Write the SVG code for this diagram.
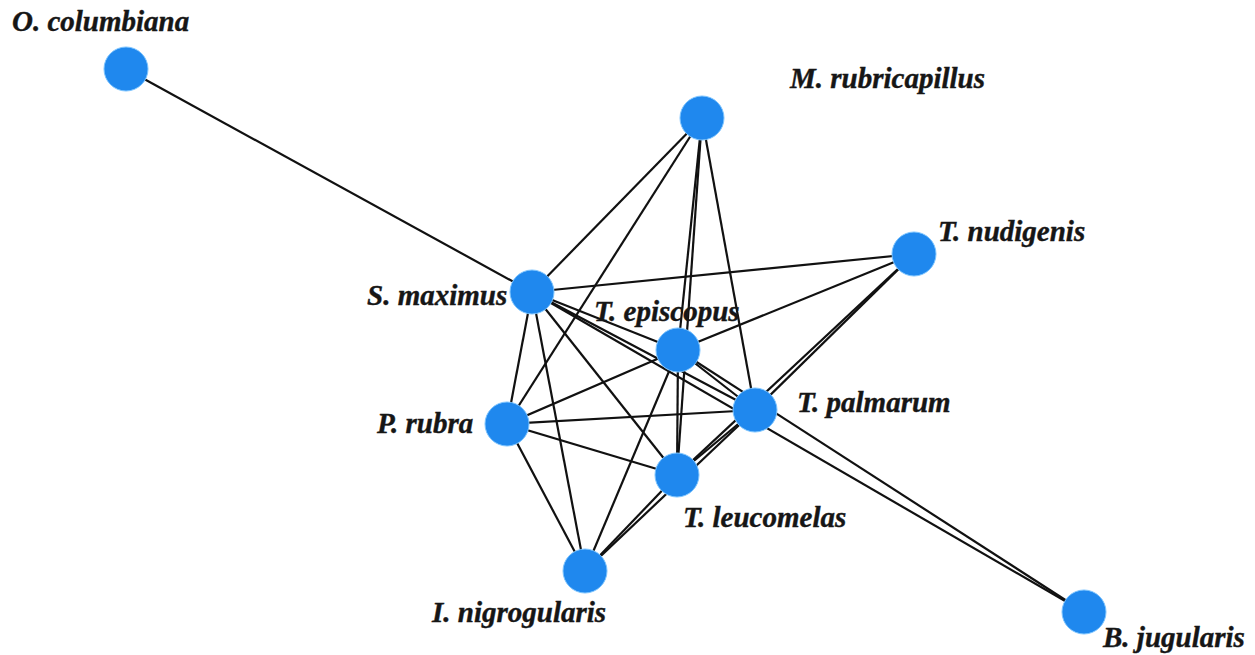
<svg xmlns="http://www.w3.org/2000/svg" width="1255" height="655" viewBox="0 0 1255 655">
  <style>
    .edge { stroke: #111; stroke-width: 2.2; fill: none; }
    .node circle { fill: #1f88ee; stroke: #7cc4ff; stroke-width: 1; }
    .node text { font-family: "Liberation Serif", "Times New Roman", serif; font-weight: bold; font-style: italic; font-size: 29px; fill: #161616; stroke: #161616; stroke-width: 0.4; }
  </style>
  <rect width="1255" height="655" fill="#ffffff"/>
  <g id="edges">
    <!-- O. columbiana -->
    <line class="edge" x1="126" y1="69" x2="532" y2="292"/>
    <!-- M. rubricapillus -->
    <line class="edge" x1="702" y1="118" x2="532" y2="292"/>
    <line class="edge" x1="702" y1="118" x2="507" y2="424"/>
    <line class="edge" x1="702" y1="118" x2="678" y2="350"/>
    <line class="edge" x1="702" y1="118" x2="677" y2="475"/>
    <line class="edge" x1="702" y1="118" x2="755" y2="410"/>
    <!-- T. nudigenis -->
    <line class="edge" x1="914" y1="254" x2="532" y2="292"/>
    <line class="edge" x1="914" y1="254" x2="678" y2="350"/>
    <line class="edge" x1="914" y1="254" x2="755" y2="410"/>
    <line class="edge" x1="914" y1="254" x2="677" y2="475"/>
    <!-- S. maximus -->
    <line class="edge" x1="532" y1="292" x2="678" y2="350"/>
    <line class="edge" x1="532" y1="292" x2="755" y2="410"/>
    <line class="edge" x1="532" y1="292" x2="1084" y2="612"/>
    <line class="edge" x1="532" y1="292" x2="507" y2="424"/>
    <line class="edge" x1="532" y1="292" x2="585" y2="571"/>
    <line class="edge" x1="532" y1="292" x2="677" y2="475"/>
    <!-- T. episcopus -->
    <line class="edge" x1="678" y1="350" x2="507" y2="424"/>
    <line class="edge" x1="678" y1="350" x2="755" y2="410"/>
    <line class="edge" x1="678" y1="350" x2="677" y2="475"/>
    <line class="edge" x1="678" y1="350" x2="585" y2="571"/>
    <line class="edge" x1="678" y1="350" x2="1084" y2="612"/>
    <!-- P. rubra -->
    <line class="edge" x1="507" y1="424" x2="755" y2="410"/>
    <line class="edge" x1="507" y1="424" x2="677" y2="475"/>
    <line class="edge" x1="507" y1="424" x2="585" y2="571"/>
    <!-- T. palmarum / T. leucomelas -->
    <line class="edge" x1="755" y1="410" x2="677" y2="475"/>
    <line class="edge" x1="755" y1="410" x2="585" y2="571"/>
    <line class="edge" x1="677" y1="475" x2="585" y2="571"/>
  </g>
  <g id="n-ocolumbiana" class="node">
    <circle cx="126" cy="69" r="22"/>
    <text x="12" y="31">O. columbiana</text>
  </g>
  <g id="n-mrubricapillus" class="node">
    <circle cx="702" cy="118" r="22"/>
    <text x="790" y="88">M. rubricapillus</text>
  </g>
  <g id="n-tnudigenis" class="node">
    <circle cx="914" cy="254" r="22"/>
    <text x="938" y="241">T. nudigenis</text>
  </g>
  <g id="n-smaximus" class="node">
    <circle cx="532" cy="292" r="22"/>
    <text x="367" y="305">S. maximus</text>
  </g>
  <g id="n-tepiscopus" class="node">
    <circle cx="678" cy="350" r="22"/>
    <text x="594" y="321">T. episcopus</text>
  </g>
  <g id="n-prubra" class="node">
    <circle cx="507" cy="424" r="22"/>
    <text x="377" y="433">P. rubra</text>
  </g>
  <g id="n-tpalmarum" class="node">
    <circle cx="755" cy="410" r="22"/>
    <text x="797" y="412">T. palmarum</text>
  </g>
  <g id="n-tleucomelas" class="node">
    <circle cx="677" cy="475" r="22"/>
    <text x="683" y="527">T. leucomelas</text>
  </g>
  <g id="n-inigrogularis" class="node">
    <circle cx="585" cy="571" r="22"/>
    <text x="432" y="622">I. nigrogularis</text>
  </g>
  <g id="n-bjugularis" class="node">
    <circle cx="1084" cy="612" r="22"/>
    <text x="1103" y="647">B. jugularis</text>
  </g>
</svg>
